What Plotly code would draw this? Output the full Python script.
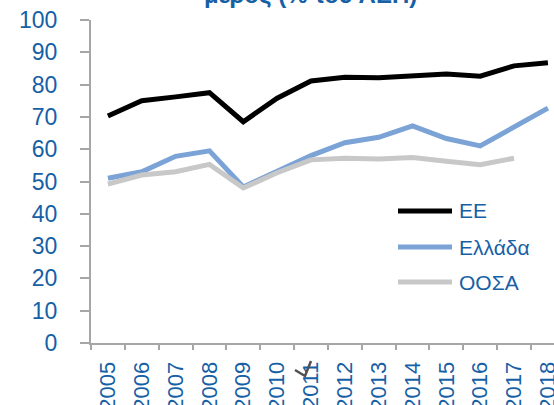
import plotly.graph_objects as go

years = ["2005", "2006", "2007", "2008", "2009", "2010", "2011", "2012",
         "2013", "2014", "2015", "2016", "2017", "2018"]
ee = [70.3, 75.0, 76.2, 77.5, 68.5, 75.8, 81.1, 82.3, 82.1, 82.6, 83.3, 82.6, 85.8, 86.8]
ellada = [51.0, 53.0, 57.8, 59.5, 48.3, 53.2, 58.0, 62.0, 63.7, 67.2, 63.3, 61.0, 67.0, 72.7]
oosa = [49.2, 52.0, 53.0, 55.3, 48.0, 52.7, 56.7, 57.2, 57.0, 57.4, 56.3, 55.2, 57.2, None]

names = ["ΕΕ", "Ελλάδα", "ΟΟΣΑ"]
colors = ["#000000", "#7BA3D6", "#C8C8C8"]
series = [ee, ellada, oosa]

TXT = "#1660A6"
AX = "#A6A6A6"
FONT = "Liberation Sans, Arial, sans-serif"

W, H = 554, 405
ML, MR, MT, MB = 91, 0, 20, 62
PW, PH = W - ML - MR, H - MT - MB


def px(x):
    return (x - ML) / PW


def py(y):
    return (H - MB - y) / PH


fig = go.Figure()
for n, c, s in zip(names, colors, series):
    fig.add_trace(go.Scatter(x=years, y=s, name=n, mode="lines",
                             line=dict(color=c, width=5), showlegend=False))

# manual legend
leg_y = [211, 247, 282]
shapes = []
annotations = []
for n, c, ly in zip(names, colors, leg_y):
    shapes.append(dict(type="line", xref="paper", yref="paper",
                       x0=px(398), x1=px(452), y0=py(ly), y1=py(ly),
                       line=dict(color=c, width=5)))
    annotations.append(dict(text=n, xref="paper", yref="paper", x=px(457), y=py(ly),
                            xanchor="left", yanchor="middle", showarrow=False,
                            font=dict(family=FONT, size=21, color=TXT)))

# partially visible title
annotations.append(dict(text="<b>μέρος (% του ΑΕΠ)</b>", xref="paper", yref="paper",
                        x=px(419), y=py(10), xanchor="right", yanchor="bottom",
                        showarrow=False, font=dict(family=FONT, size=24, color=TXT)))

# stray mark near 2011 label
shapes.append(dict(type="path", xref="paper", yref="paper",
                   path="M {},{} L {},{} L {},{}".format(px(295), py(370), px(305), py(376),
                                                        px(311), py(361)),
                   line=dict(color="#505050", width=2.5)))

fig.update_layout(
    width=W, height=H,
    margin=dict(l=ML, r=MR, t=MT, b=MB, autoexpand=False),
    paper_bgcolor="white", plot_bgcolor="white",
    font=dict(family=FONT, color=TXT),
    shapes=shapes, annotations=annotations,
    xaxis=dict(type="category", range=[-0.5, 13.18], tickson="boundaries",
               automargin=False,
               showline=True, linecolor=AX, linewidth=2,
               ticks="outside", ticklen=5, tickcolor=AX, tickwidth=2,
               tickangle=-90, tickfont=dict(size=22, color=TXT, family=FONT),
               showgrid=False, zeroline=False, ticklabelstandoff=8),
    yaxis=dict(range=[0, 100], dtick=10, showline=True, linecolor=AX, linewidth=2,
               automargin=False,
               ticks="outside", ticklen=9, tickcolor=AX, tickwidth=2,
               tickfont=dict(size=23, color=TXT, family=FONT),
               showgrid=False, zeroline=False, ticklabelstandoff=18),
)

fig.write_html("out.html", config={"displayModeBar": False},
               post_script="document.body.style.margin='0';document.body.style.overflow='hidden';")
